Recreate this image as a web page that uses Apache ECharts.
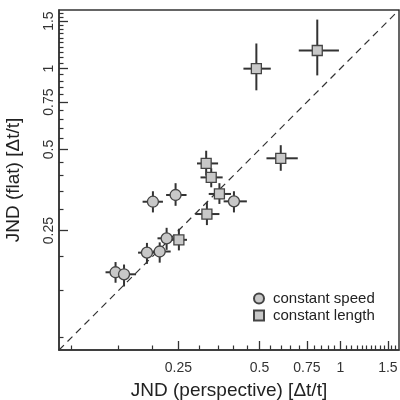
<!DOCTYPE html>
<html>
<head>
<meta charset="utf-8">
<script src="https://cdn.jsdelivr.net/npm/echarts@6/dist/echarts.min.js"></script>
<style>
  html, body { margin: 0; padding: 0; background: #fff; }
  #chart { width: 400px; height: 400px; }
</style>
</head>
<body>
<div id="chart"></div>
<script>
// each row: [x, y, xLow, xHigh, yLow, yHigh]
var constantSpeed = [
  [0.146, 0.175, 0.134, 0.155, 0.160, 0.191],
  [0.157, 0.172, 0.148, 0.174, 0.155, 0.187],
  [0.191, 0.207, 0.177, 0.203, 0.188, 0.225],
  [0.213, 0.209, 0.201, 0.234, 0.190, 0.226],
  [0.226, 0.234, 0.209, 0.244, 0.212, 0.256],
  [0.201, 0.320, 0.184, 0.219, 0.292, 0.350],
  [0.244, 0.339, 0.225, 0.268, 0.309, 0.375],
  [0.402, 0.321, 0.368, 0.449, 0.292, 0.350]
]
var constantLength = [
  [0.251, 0.231, 0.234, 0.269, 0.211, 0.254],
  [0.319, 0.288, 0.289, 0.355, 0.262, 0.320],
  [0.355, 0.342, 0.324, 0.392, 0.314, 0.375],
  [0.331, 0.394, 0.302, 0.365, 0.362, 0.426],
  [0.317, 0.444, 0.293, 0.351, 0.400, 0.495],
  [0.600, 0.464, 0.531, 0.694, 0.417, 0.519],
  [0.487, 0.999, 0.436, 0.551, 0.830, 1.239],
  [0.820, 1.167, 0.700, 0.987, 0.943, 1.520]
]
var axisRange = [0.09, 1.65]
var majorTicks = [0.25, 0.5, 0.75, 1, 1.5]
var minorTicks = [0.1, 0.15, 0.2, 0.3, 0.35, 0.4, 0.45, 0.55, 0.6, 0.65, 0.7,
  0.8, 0.85, 0.9, 0.95, 1.05, 1.1, 1.15, 1.2, 1.25, 1.3, 1.35, 1.4, 1.45, 1.55, 1.6]
var diagonal = [[axisRange[0], axisRange[0]], [axisRange[1], axisRange[1]]]

var fontFamily = '"Liberation Sans", Arial, sans-serif'
var ink = '#333'

function renderBars (params, api) {
  var x = api.value(0)
  var y = api.value(1)
  var l = api.coord([api.value(2), y])
  var r = api.coord([api.value(3), y])
  var b = api.coord([x, api.value(4)])
  var t = api.coord([x, api.value(5)])
  var style = { stroke: ink, lineWidth: 2 }
  return {
    type: 'group',
    children: [
      { type: 'line', shape: { x1: l[0], y1: l[1], x2: r[0], y2: r[1] }, style: style },
      { type: 'line', shape: { x1: b[0], y1: b[1], x2: t[0], y2: t[1] }, style: style }
    ]
  }
}

function fmt (v) {
  return String(+v.toPrecision(6))
}

function majorAxis (name, isY) {
  return {
    type: 'log',
    logBase: 10,
    min: axisRange[0],
    max: axisRange[1],
    position: isY ? 'left' : 'bottom',
    name: name,
    nameLocation: 'middle',
    nameGap: isY ? 36 : 31,
    nameRotate: isY ? 90 : 0,
    nameTextStyle: { fontFamily: fontFamily, fontSize: 19, color: '#222' },
    axisLine: { show: true, lineStyle: { color: ink, width: 1.5 } },
    axisTick: { show: true, inside: true, length: 9, customValues: majorTicks, lineStyle: { color: ink, width: 1.3 } },
    axisLabel: {
      customValues: majorTicks,
      formatter: fmt,
      rotate: isY ? 90 : 0,
      margin: isY ? 3 : 11,
      fontFamily: fontFamily,
      fontSize: 14,
      color: '#333'
    },
    splitLine: { show: false }
  }
}

function minorAxis (isY) {
  return {
    type: 'log',
    logBase: 10,
    min: axisRange[0],
    max: axisRange[1],
    position: isY ? 'left' : 'bottom',
    axisLine: { show: false },
    axisTick: { show: true, inside: true, length: 4.5, customValues: minorTicks, lineStyle: { color: ink, width: 1.2 } },
    axisLabel: { show: false },
    splitLine: { show: false }
  }
}

var myChart = echarts.init(document.getElementById('chart'))
var option = {
  backgroundColor: '#fff',
  animation: false,
  grid: {
    left: 59,
    top: 10,
    width: 340,
    height: 340,
    outerBoundsMode: 'none',
    containLabel: false,
    show: true,
    borderColor: ink,
    borderWidth: 1.5,
    backgroundColor: 'transparent'
  },
  legend: {
    orient: 'vertical',
    left: 248,
    top: 286,
    itemWidth: 10,
    itemHeight: 10,
    itemGap: 2,
    data: ['constant speed', 'constant length'],
    textStyle: { fontFamily: fontFamily, fontSize: 15, color: '#222', padding: [0, 0, 0, 4] }
  },
  xAxis: [majorAxis('JND (perspective) [\u0394t/t]', false), minorAxis(false)],
  yAxis: [majorAxis('JND (flat) [\u0394t/t]', true), minorAxis(true)],
  series: [
    {
      type: 'line',
      data: diagonal,
      symbol: 'none',
      silent: true,
      lineStyle: { color: ink, width: 1.2, type: [7, 5] },
      z: 1
    },
    {
      type: 'custom',
      renderItem: renderBars,
      data: constantSpeed,
      encode: { x: [0, 2, 3], y: [1, 4, 5] },
      z: 2
    },
    {
      type: 'custom',
      renderItem: renderBars,
      data: constantLength,
      encode: { x: [0, 2, 3], y: [1, 4, 5] },
      z: 2
    },
    {
      name: 'constant speed',
      type: 'scatter',
      data: constantSpeed.map(function (p) { return [p[0], p[1]] }),
      symbol: 'circle',
      symbolSize: 11,
      itemStyle: { color: '#c8c8c8', borderColor: '#444', borderWidth: 1.3, opacity: 1 },
      z: 3
    },
    {
      name: 'constant length',
      type: 'scatter',
      data: constantLength.map(function (p) { return [p[0], p[1]] }),
      symbol: 'rect',
      symbolSize: 10,
      itemStyle: { color: '#c8c8c8', borderColor: '#444', borderWidth: 1.3, opacity: 1 },
      z: 3
    }
  ]
}
myChart.setOption(option)
</script>
</body>
</html>
